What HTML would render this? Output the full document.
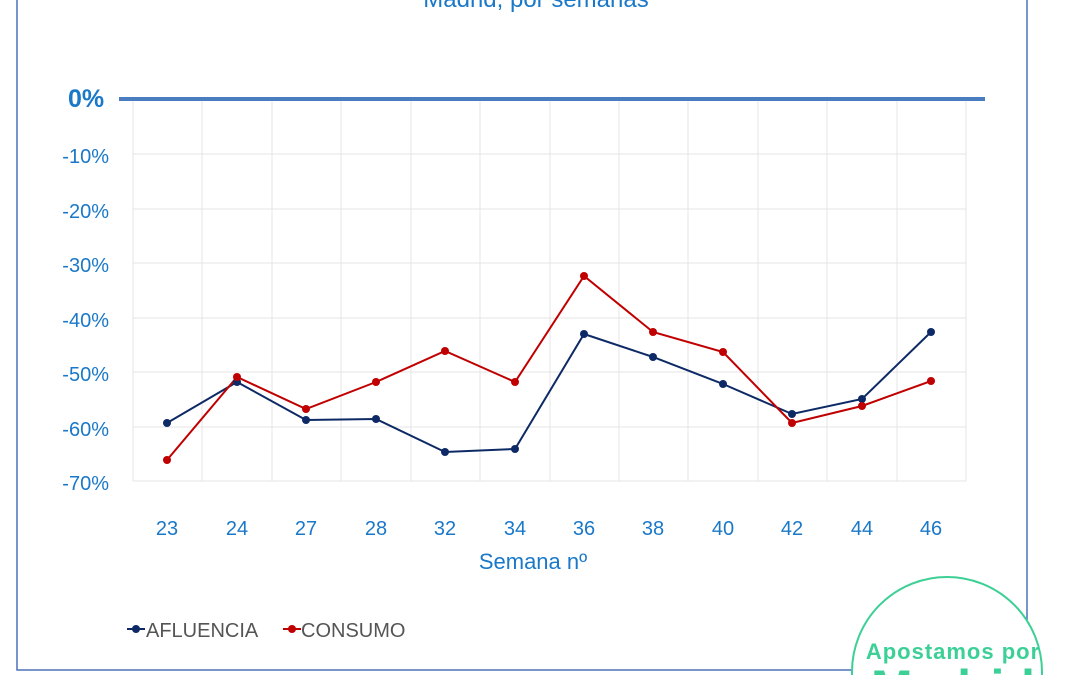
<!DOCTYPE html>
<html><head><style>
html,body{margin:0;background:#fff;width:1080px;height:675px;overflow:hidden;}
svg{display:block;font-family:"Liberation Sans",sans-serif;overflow:hidden;}
</style></head><body>
<svg width="1080" height="675" xmlns="http://www.w3.org/2000/svg">
<rect x="17" y="-5" width="1010" height="675" fill="none" stroke="#4a72b8" stroke-width="1.5"/>
<text x="536" y="7" font-size="24" fill="#1a78c8" text-anchor="middle">Madrid, por semanas</text>
<g stroke="#e4e4e4" stroke-width="1">
<line x1="133" y1="154" x2="966" y2="154"/><line x1="133" y1="209" x2="966" y2="209"/>
<line x1="133" y1="263" x2="966" y2="263"/><line x1="133" y1="318" x2="966" y2="318"/>
<line x1="133" y1="372" x2="966" y2="372"/><line x1="133" y1="427" x2="966" y2="427"/>
<line x1="133" y1="481" x2="966" y2="481"/>
<line x1="133" y1="99" x2="133" y2="481"/><line x1="202" y1="99" x2="202" y2="481"/>
<line x1="272" y1="99" x2="272" y2="481"/><line x1="341" y1="99" x2="341" y2="481"/>
<line x1="411" y1="99" x2="411" y2="481"/><line x1="480" y1="99" x2="480" y2="481"/>
<line x1="550" y1="99" x2="550" y2="481"/><line x1="619" y1="99" x2="619" y2="481"/>
<line x1="688" y1="99" x2="688" y2="481"/><line x1="758" y1="99" x2="758" y2="481"/>
<line x1="827" y1="99" x2="827" y2="481"/><line x1="897" y1="99" x2="897" y2="481"/>
<line x1="966" y1="99" x2="966" y2="481"/>
</g>
<line x1="119" y1="99" x2="985" y2="99" stroke="#4a7cc0" stroke-width="4"/>
<text x="68" y="107" font-size="25" font-weight="bold" fill="#1a78c8">0%</text>
<g font-size="20" fill="#1a78c8" text-anchor="end">
<text x="109" y="163">-10%</text><text x="109" y="218">-20%</text><text x="109" y="272">-30%</text>
<text x="109" y="327">-40%</text><text x="109" y="381">-50%</text><text x="109" y="436">-60%</text>
<text x="109" y="490">-70%</text>
</g>
<g font-size="20" fill="#1a78c8" text-anchor="middle">
<text x="167" y="535">23</text><text x="237" y="535">24</text><text x="306" y="535">27</text>
<text x="376" y="535">28</text><text x="445" y="535">32</text><text x="515" y="535">34</text>
<text x="584" y="535">36</text><text x="653" y="535">38</text><text x="723" y="535">40</text>
<text x="792" y="535">42</text><text x="862" y="535">44</text><text x="931" y="535">46</text>
<text x="533" y="569" font-size="22">Semana nº</text>
</g>
<polyline fill="none" stroke="#0e2a66" stroke-width="2" points="167,423 237,382 306,420 376,419 445,452 515,449 584,334 653,357 723,384 792,414 862,399 931,332"/>
<polyline fill="none" stroke="#c00000" stroke-width="2" points="167,460 237,377 306,409 376,382 445,351 515,382 584,276 653,332 723,352 792,423 862,406 931,381"/>
<g fill="#0e2a66">
<circle cx="167" cy="423" r="4"/><circle cx="237" cy="382" r="4"/><circle cx="306" cy="420" r="4"/><circle cx="376" cy="419" r="4"/><circle cx="445" cy="452" r="4"/><circle cx="515" cy="449" r="4"/><circle cx="584" cy="334" r="4"/><circle cx="653" cy="357" r="4"/><circle cx="723" cy="384" r="4"/><circle cx="792" cy="414" r="4"/><circle cx="862" cy="399" r="4"/><circle cx="931" cy="332" r="4"/>
</g>
<g fill="#c00000">
<circle cx="167" cy="460" r="4"/><circle cx="237" cy="377" r="4"/><circle cx="306" cy="409" r="4"/><circle cx="376" cy="382" r="4"/><circle cx="445" cy="351" r="4"/><circle cx="515" cy="382" r="4"/><circle cx="584" cy="276" r="4"/><circle cx="653" cy="332" r="4"/><circle cx="723" cy="352" r="4"/><circle cx="792" cy="423" r="4"/><circle cx="862" cy="406" r="4"/><circle cx="931" cy="381" r="4"/>
</g>
<line x1="127" y1="629" x2="145" y2="629" stroke="#0e2a66" stroke-width="2"/><circle cx="136" cy="629" r="4" fill="#0e2a66"/>
<text x="146" y="637" font-size="20" fill="#555">AFLUENCIA</text>
<line x1="283" y1="629" x2="301" y2="629" stroke="#c00000" stroke-width="2"/><circle cx="292" cy="629" r="4" fill="#c00000"/>
<text x="301" y="637" font-size="20" fill="#555">CONSUMO</text>
<circle cx="947" cy="672" r="95" fill="#fff" stroke="#3ccf96" stroke-width="2"/>
<text x="953" y="659" font-size="22" font-weight="bold" fill="#3ccf96" text-anchor="middle" letter-spacing="1">Apostamos por</text>
<text x="953" y="705" font-size="50" font-weight="bold" fill="#3ccf96" text-anchor="middle">Madrid</text>
</svg>
</body></html>
